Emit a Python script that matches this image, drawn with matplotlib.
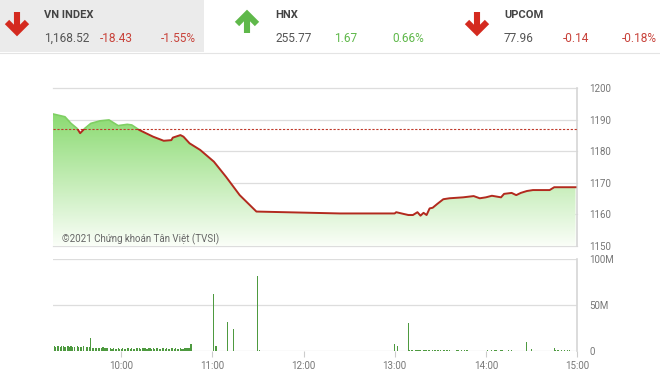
import matplotlib
matplotlib.use('Agg')
import matplotlib.pyplot as plt
import numpy as np
from matplotlib.patches import Polygon, Rectangle

plt.rcParams['font.family'] = ['Roboto', 'DejaVu Sans']

# VN-Index intraday
price_times = ['09:15', '09:23', '09:27', '09:31', '09:33', '09:36', '09:40', '09:46',
               '09:52', '09:54', '09:58', '10:04', '10:07', '10:12', '10:21', '10:28',
               '10:33', '10:34', '10:39', '10:41', '10:45', '10:52', '11:01', '11:09',
               '11:18', '11:29', '12:24', '13:00', '13:01',
               '13:09', '13:12', '13:15', '13:17', '13:19', '13:21', '13:23', '13:25',
               '13:28', '13:32', '13:36', '13:45', '13:52', '13:56', '14:00', '14:04',
               '14:10', '14:12', '14:17', '14:20', '14:23', '14:27', '14:31', '14:42',
               '14:45', '14:59']
price_values = [1191.8, 1190.9, 1188.8, 1187.2, 1185.7, 1187.2, 1188.8, 1189.6,
                1189.9, 1189.3, 1188.1, 1188.5, 1188.3, 1186.7, 1184.6, 1183.3,
                1183.5, 1184.3, 1185.1, 1184.6, 1182.5, 1180.4, 1176.7, 1171.9,
                1166.1, 1160.9, 1160.3, 1160.3, 1160.7,
                1159.8, 1159.8, 1160.7, 1159.6, 1160.5, 1159.8, 1161.9, 1162.1,
                1163.3, 1164.8, 1165.1, 1165.4, 1165.8, 1165.1, 1165.4, 1165.9,
                1165.4, 1166.5, 1166.8, 1166.1, 1166.8, 1167.4, 1167.7, 1167.7,
                1168.6, 1168.6]
ref_value = 1186.95

# volume (millions), runs of one-minute bars: start time, values
vol_runs = [
    ('09:15', [20, 5, 4, 5, 5, 4, 5, 5, 4, 0, 5, 4, 5, 4, 4, 0, 5, 4, 4, 4, 5, 0, 4, 4, 4,
               14,
               3, 3, 3, 3, 3, 3, 3, 4, 3, 3, 3, 0, 3, 2, 3, 2, 2, 3, 2, 2,
               3, 2, 2, 3, 3, 2, 3, 2, 2, 3, 3, 3, 2, 3, 3, 3, 2, 3, 3, 2,
               3, 2, 3, 3, 2, 2, 3, 3, 2, 3, 2, 2, 3, 3, 2, 3, 2, 2, 3, 2,
               2, 3, 3, 3, 3,
               7.5]),
    ('11:01', [62, 5, 5]),
    ('11:10', [31]),
    ('11:14', [24]),
    ('11:30', [81, 1.5]),
    ('13:00', [7.4, 0, 5.5]),
    ('13:09', [30, 1, 1, 1, 0, 1, 1, 1, 1, 0, 1, 1, 1, 1, 1, 0, 1, 1, 1, 1, 1, 1, 0, 1, 1, 1, 1, 1]),
    ('13:41', [1, 1, 0, 1, 0, 1, 1, 1]),
    ('14:01', [1, 0, 0, 1, 0, 1, 1, 0, 0, 1, 1, 0, 0, 0, 1, 0, 1]),
    ('14:27', [10, 0, 0, 2]),
    ('14:45', [3.7, 1.5, 1, 1, 0, 1, 0, 1, 0, 1, 1]),
]

x_ticks = ['10:00', '11:00', '12:00', '13:00', '14:00', '15:00']
y_ticks_price = [1150, 1160, 1170, 1180, 1190, 1200]
y_ticks_vol = [0, 50, 100]
y_labels_vol = ['0', '50M', '100M']

header = [
    # name, value, change, pct, up?
    ('VN INDEX', '1,168.52', '-18.43', '-1.55%', False),
    ('HNX', '255.77', '1.67', '0.66%', True),
    ('UPCOM', '77.96', '-0.14', '-0.18%', False),
]


def to_min(t):
    h, m = t.split(':')
    return (int(h) - 9) * 60 + int(m)


px = np.array([to_min(t) for t in price_times], dtype=float)
py = np.array(price_values)
vx, vy = [], []
for start, vals in vol_runs:
    for i, v in enumerate(vals):
        vx.append(to_min(start) + i)
        vy.append(v)

W, H = 660, 379
fig = plt.figure(figsize=(W / 100, H / 100), dpi=100)

# header / overlay
bg = fig.add_axes([0, 0, 1, 1])
bg.set_xlim(0, W)
bg.set_ylim(H, 0)
bg.axis('off')
bg.add_patch(Rectangle((0, 0), 204, 52, color='#ebebeb', lw=0))
bg.plot([0, W], [53, 53], color='#e4e4e4', lw=0.8)

red = '#d42a1f'
green = '#5fb84a'
arrow_x = [17, 247, 477]
name_x = [44, 275, 504]
val_x = [(44, 100, 196), (275, 334, 424), (504, 563, 657)]
for (name, val, chg, pct, up), ax0, nx, (v1, v2, v3) in zip(header, arrow_x, name_x, val_x):
    col = green if up else red
    if up:
        bg.plot([ax0 - 10, ax0, ax0 + 10], [24, 14, 24], color=col, lw=4.4,
                solid_joinstyle='miter', solid_capstyle='butt')
        bg.plot([ax0, ax0], [15, 33], color=col, lw=4.4, solid_capstyle='butt')
    else:
        bg.plot([ax0 - 10, ax0, ax0 + 10], [22, 32, 22], color=col, lw=4.4,
                solid_joinstyle='miter', solid_capstyle='butt')
        bg.plot([ax0, ax0], [12, 31], color=col, lw=4.4, solid_capstyle='butt')
    bg.text(nx, 15, name, fontsize=8, fontweight='bold', color='#444444', va='center')
    bg.text(v1, 38, val, fontsize=8.6, color='#555555', va='center')
    tcol = '#5fb84a' if up else '#c8423a'
    bg.text(v2, 38, chg, fontsize=8.6, color=tcol, va='center')
    bg.text(v3, 38, pct, fontsize=8.6, color=tcol, va='center', ha='right')

x0, x1 = 15, 360
grid_c = '#dddddd'

# price panel
ax = fig.add_axes([52.8 / W, 1 - 246 / H, (577 - 52.8) / W, 158 / H])
ax.patch.set_alpha(0)
ax.set_xlim(x0, x1)
ax.set_ylim(1150, 1200)
for s in ['left', 'top', 'bottom']:
    ax.spines[s].set_visible(False)
ax.spines['right'].set_color('#d6d6d6')
ax.spines['right'].set_linewidth(1.2)
ax.set_yticks(y_ticks_price)
ax.yaxis.tick_right()
ax.tick_params(axis='y', length=0, pad=9, labelsize=7, labelcolor='#777777')
ax.set_xticks([])
for v in y_ticks_price:
    ax.axhline(v, color=grid_c, lw=0.9, zorder=0, clip_on=False)

top_c = np.array([118, 212, 88]) / 255
bot_c = np.array([250, 254, 248]) / 255
fr = np.linspace(1, 0, 200)[:, None]
grad = (fr * top_c + (1 - fr) * bot_c)[:, None, :]
im = ax.imshow(grad, extent=[x0, x1, 1150, 1200], aspect='auto', zorder=1,
               interpolation='bilinear')
verts = [(px[0], 1150)] + list(zip(px, py)) + [(px[-1], 1150)]
poly = Polygon(verts, closed=True, facecolor='none', edgecolor='none',
               transform=ax.transData)
ax.add_patch(poly)
im.set_clip_path(poly)

ax.axhline(ref_value, color='#c0392b', lw=0.8, ls=(0, (2, 1.5)), zorder=3)

lg, = ax.plot(px, py, color='#7fcf63', lw=1.2, zorder=4)
lg.set_clip_path(Rectangle((x0, ref_value), x1 - x0, 1200 - ref_value, transform=ax.transData))
lr, = ax.plot(px, py, color='#b22a1e', lw=1.4, zorder=4)
lr.set_clip_path(Rectangle((x0, 1150), x1 - x0, ref_value - 1150, transform=ax.transData))

ax.text(0.0176, 0.04, '\u00a92021 Ch\u1ee9ng kho\u00e1n T\u00e2n Vi\u1ec7t (TVSI)',
        transform=ax.transAxes, fontsize=7, color='#666666', va='center', zorder=10)

# volume panel
axv = fig.add_axes([52.8 / W, 1 - 351 / H, (577 - 52.8) / W, 92 / H])
axv.patch.set_alpha(0)
axv.set_xlim(x0, x1)
axv.set_ylim(0, 100)
for s in ['left', 'top', 'bottom']:
    axv.spines[s].set_visible(False)
axv.spines['right'].set_color('#d6d6d6')
axv.spines['right'].set_linewidth(1.2)
for v in y_ticks_vol:
    axv.axhline(v, color=grid_c, lw=0.9, zorder=0)
axv.bar(vx, vy, width=0.75, color='#4e9a40', zorder=2)
axv.yaxis.tick_right()
axv.set_yticks(y_ticks_vol)
axv.set_yticklabels(y_labels_vol)
axv.tick_params(axis='y', length=0, pad=9, labelsize=7, labelcolor='#777777')
axv.set_xticks([to_min(t) for t in x_ticks])
axv.set_xticklabels(x_ticks)
axv.tick_params(axis='x', length=4, width=0.8, color='#cccccc', pad=3,
                labelsize=7, labelcolor='#777777')

fig.savefig('out.png', dpi=100)
